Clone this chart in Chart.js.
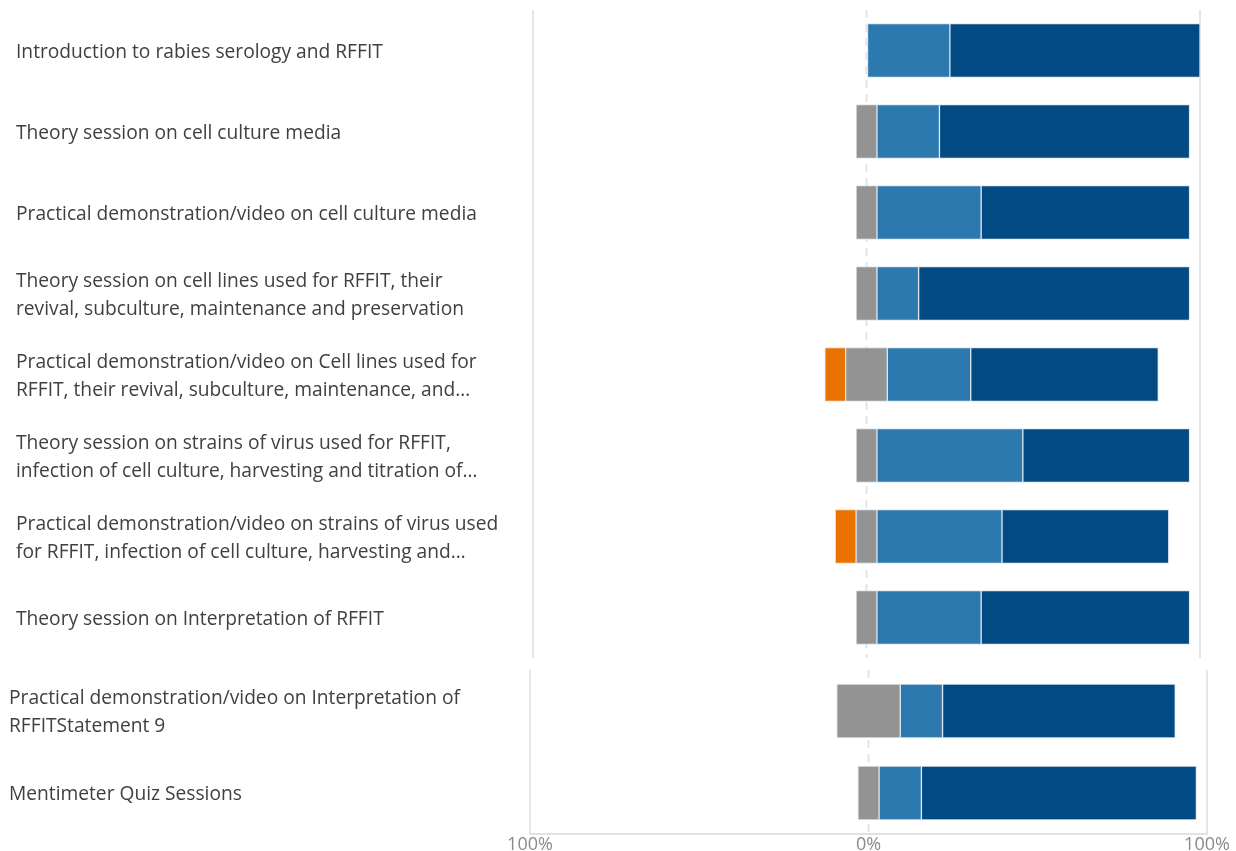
<!DOCTYPE html>
<html>
<head>
<meta charset="utf-8">
<script src="https://cdn.jsdelivr.net/npm/chart.js@4/dist/chart.umd.min.js"></script>
<style>
  html, body { margin: 0; padding: 0; background: #fff; overflow: hidden; }
  #wrap1 { position: absolute; left: 0; top: 0; width: 1236px; height: 668px; }
  #wrap2 { position: absolute; left: 0; top: 660px; width: 1236px; height: 200px; }
</style>
</head>
<body>
<div id="wrap1"><canvas id="chart1"></canvas></div>
<div id="wrap2"><canvas id="chart2"></canvas></div>
<script>
// Session labels (top panel)
var labelsTop = [
  "Introduction to rabies serology and RFFIT",
  "Theory session on cell culture media",
  "Practical demonstration/video on cell culture media",
  ["Theory session on cell lines used for RFFIT, their", "revival, subculture, maintenance and preservation"],
  ["Practical demonstration/video on Cell lines used for", "RFFIT, their revival, subculture, maintenance, and\u2026"],
  ["Theory session on strains of virus used for RFFIT,", "infection of cell culture, harvesting and titration of\u2026"],
  ["Practical demonstration/video on strains of virus used", "for RFFIT, infection of cell culture, harvesting and\u2026"],
  "Theory session on Interpretation of RFFIT"
];
// Session labels (bottom panel)
var labelsBottom = [
  ["Practical demonstration/video on Interpretation of", "RFFITStatement 9"],
  "Mentimeter Quiz Sessions"
];

// percentages of responses, top panel
var disagreeTop = [0, 0, 0, 0, 6.25, 0, 6.25, 0];
var neutralTop = [0, 6.25, 6.25, 6.25, 12.5, 6.25, 6.25, 6.25];
var agreeTop = [25, 18.75, 31.25, 12.5, 25, 43.75, 37.5, 31.25];
var stronglyAgreeTop = [75, 75, 62.5, 81.25, 56.25, 50, 50, 62.5];

// percentages of responses, bottom panel
var disagreeBottom = [0, 0];
var neutralBottom = [18.75, 6.25];
var agreeBottom = [12.5, 12.5];
var stronglyAgreeBottom = [68.75, 81.25];

var xTicks = [-100, 0, 100];

var colors = {
  disagree: "#e97200",
  neutral: "#939393",
  agree: "#2c79b0",
  stronglyAgree: "#024a84"
};

// dashed line at 0%
var zeroLine = {
  id: "zeroLine",
  beforeDatasetsDraw: function(chart) {
    var x = chart.scales.x.getPixelForValue(0);
    var area = chart.chartArea;
    var ctx = chart.ctx;
    ctx.save();
    ctx.strokeStyle = "#e4e4e4";
    ctx.lineWidth = 2;
    ctx.setLineDash([8, 6]);
    ctx.beginPath();
    ctx.moveTo(x, area.top);
    ctx.lineTo(x, area.bottom);
    ctx.stroke();
    ctx.restore();
  }
};

// diverging layout: neutral sits centred on 0, disagree to its left,
// agree and strongly agree to its right. Empty segments -> null.
function segments(disagree, neutral, agree, stronglyAgree) {
  var out = { disagree: [], neutral: [], agree: [], stronglyAgree: [] };
  for (var i = 0; i < neutral.length; i++) {
    var h = neutral[i] / 2;
    out.neutral.push(neutral[i] ? [-h, h] : null);
    out.disagree.push(disagree[i] ? [-h - disagree[i], -h] : null);
    out.agree.push(agree[i] ? [h, h + agree[i]] : null);
    var s = h + agree[i];
    out.stronglyAgree.push(stronglyAgree[i] ? [s, s + stronglyAgree[i]] : null);
  }
  return out;
}

function buildDatasets(disagree, neutral, agree, stronglyAgree) {
  var seg = segments(disagree, neutral, agree, stronglyAgree);
  var common = { borderWidth: 1, borderColor: "#dde5ee", borderSkipped: false, barThickness: 54, grouped: false };
  return [
    Object.assign({}, common, { label: "Disagree", data: seg.disagree, backgroundColor: colors.disagree }),
    Object.assign({}, common, { label: "Neutral", data: seg.neutral, backgroundColor: colors.neutral }),
    Object.assign({}, common, { label: "Agree", data: seg.agree, backgroundColor: colors.agree }),
    Object.assign({}, common, { label: "Strongly agree", data: seg.stronglyAgree, backgroundColor: colors.stronglyAgree })
  ];
}

function makeChart(id, labels, datasets, opts) {
  var ctx = document.getElementById(id).getContext("2d");
  return new Chart(ctx, {
    type: "bar",
    data: { labels: labels, datasets: datasets },
    plugins: [zeroLine],
    options: {
      indexAxis: "y",
      responsive: true,
      maintainAspectRatio: false,
      animation: false,
      layout: { padding: opts.padding },
      plugins: { legend: { display: false }, tooltip: { enabled: false } },
      scales: {
        x: {
          min: -100,
          max: 100,
          afterBuildTicks: function(scale) {
            scale.ticks = xTicks.map(function(v) { return { value: v }; });
          },
          grid: {
            color: function(c) { return c.tick && c.tick.value === 0 ? "rgba(0,0,0,0)" : "#e6e6e6"; },
            lineWidth: 2,
            drawTicks: false
          },
          border: { display: opts.showAxis, color: "#e2e2e2", width: 2 },
          ticks: {
            display: opts.showAxis,
            padding: 0,
            color: "#8a8a8a",
            font: { family: "'Segoe UI', 'Open Sans', sans-serif", size: 18 },
            callback: function(v) { return Math.abs(v) + "%"; }
          },
          afterFit: function(scale) {
            scale.height = opts.xHeight;
            scale.paddingLeft = 0;
            scale.paddingRight = 0;
          }
        },
        y: {
          grid: { display: false },
          border: { display: false },
          ticks: {
            crossAlign: "far",
            padding: 0,
            labelOffset: 2,
            color: "#404040",
            font: { family: "'Segoe UI', 'Open Sans', sans-serif", size: 19.2, lineHeight: 1.46 }
          },
          afterFit: function(scale) {
            scale.width = opts.yWidth;
            scale.paddingTop = 0;
            scale.paddingBottom = 0;
          }
        }
      }
    }
  });
}

makeChart("chart1", labelsTop,
  buildDatasets(disagreeTop, neutralTop, agreeTop, stronglyAgreeTop),
  { padding: { left: 16, right: 36, top: 10, bottom: 10 }, yWidth: 517, xHeight: 0, showAxis: false });

makeChart("chart2", labelsBottom,
  buildDatasets(disagreeBottom, neutralBottom, agreeBottom, stronglyAgreeBottom),
  { padding: { left: 9, right: 29, top: 10, bottom: 0 }, yWidth: 521, xHeight: 26, showAxis: true });
</script>
</body>
</html>
